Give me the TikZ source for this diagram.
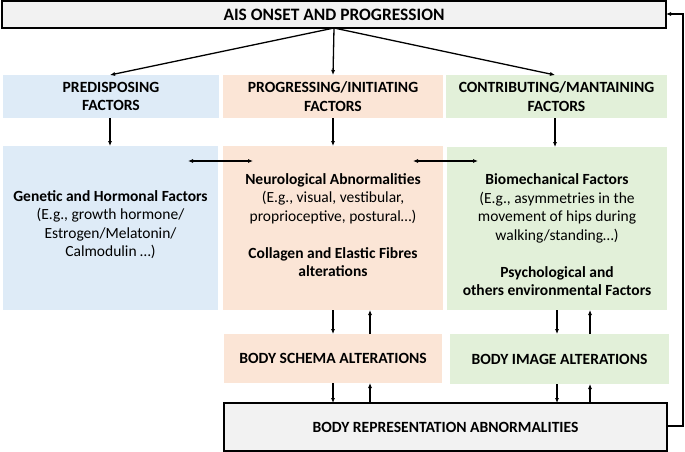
\documentclass[tikz,border=0pt]{standalone}
\usepackage{fontspec}
\setmainfont{Carlito}
\usetikzlibrary{arrows.meta}
\definecolor{cblue}{HTML}{DEEBF7}
\definecolor{cpeach}{HTML}{FBE5D6}
\definecolor{cgreen}{HTML}{E2F0D9}
\definecolor{cgray}{HTML}{F2F2F2}
\tikzset{
  box/.style={inner sep=0pt, outer sep=0pt, anchor=center},
  hdr/.style={box, font=\fontsize{15.6}{18.4}\selectfont\bfseries, align=center},
  body/.style={inner sep=0pt, font=\fontsize{15.5}{18.5}\selectfont, align=center},
  arr/.style={line width=1.3pt, -{Latex[length=5pt,width=4.2pt]}},
  darr/.style={line width=1.3pt, {Latex[length=5pt,width=4.2pt]}-{Latex[length=5pt,width=4.2pt]}},
}
\begin{document}
\begin{tikzpicture}[x=1pt,y=-1pt]
\useasboundingbox (0,0) rectangle (685,452);
% top
\node[box, draw, line width=1.3pt, fill=cgray, minimum width=664pt, minimum height=27pt,
      font=\fontsize{17.4}{20}\selectfont\bfseries] (top) at (334,14.5) {AIS ONSET AND PROGRESSION};
% headers
\node[hdr, fill=cblue, minimum width=216pt, minimum height=43pt] (pre) at (111,96.5) {PREDISPOSING\\FACTORS};
\node[hdr, fill=cpeach, minimum width=220pt, minimum height=43pt] (prog) at (333,96.5) {PROGRESSING/INITIATING\\FACTORS};
\node[hdr, fill=cgreen, minimum width=221pt, minimum height=43pt] (cont) at (556.5,96.5) {CONTRIBUTING/MANTAINING\\FACTORS};
% main boxes
\node[box, fill=cblue, minimum width=215pt, minimum height=164pt] (gen) at (110.5,228) {};
\node[box, fill=cpeach, minimum width=220pt, minimum height=164pt] (neu) at (333,228) {};
\node[box, fill=cgreen, minimum width=220pt, minimum height=163pt] (bio) at (557,228.5) {};
\node[body] (gent) at (110.5,224.7) {\textbf{Genetic and Hormonal Factors}\\(E.g., growth hormone/\\Estrogen/Melatonin/\\Calmodulin \dots)};
\node[body] (neut) at (333,225) {\textbf{Neurological Abnormalities}\\(E.g., visual, vestibular,\\proprioceptive, postural\dots)\\[18.5pt]\textbf{Collagen and Elastic Fibres}\\\textbf{alterations}};
\node[body] (biot) at (557,235) {\textbf{Biomechanical Factors}\\(E.g., asymmetries in the\\movement of hips during\\walking/standing\dots)\\[18.5pt]\textbf{Psychological and}\\\textbf{others environmental Factors}};
% lower boxes
\node[hdr, fill=cpeach, minimum width=218pt, minimum height=49pt] (schema) at (333,358.5) {BODY SCHEMA ALTERATIONS};
\node[hdr, fill=cgreen, minimum width=219pt, minimum height=50pt] (image) at (559.5,359) {BODY IMAGE ALTERATIONS};
\node[hdr, draw, line width=2pt, fill=cgray, minimum width=443pt, minimum height=48pt] (bra) at (445.5,427) {BODY REPRESENTATION ABNORMALITIES};
% coordinates
\coordinate (xl) at (110,0);
\coordinate (xm) at (333,0);
\coordinate (xr) at (555,0);
\coordinate (xu1) at (370,0);
\coordinate (xd2) at (557,0);
\coordinate (xu2) at (590,0);
\coordinate (h1a) at (188,161);
\coordinate (h1b) at (253,161);
\coordinate (h2a) at (413,161);
\coordinate (h2b) at (478,161);
\coordinate (fb1) at (683,426);
\coordinate (fb2) at (683,14);
% arrows from top
\draw[arr] (top.south) -- (pre.north -| xl);
\draw[arr] (top.south) -- (prog.north);
\draw[arr] (top.south) -- (cont.north -| xr);
% headers to boxes
\draw[arr] (pre.south -| xl) -- (gen.north -| xl);
\draw[arr] (prog.south) -- (neu.north);
\draw[arr] (cont.south -| xr) -- (bio.north -| xr);
% horizontal double arrows
\draw[darr] (h1a) -- (h1b);
\draw[darr] (h2a) -- (h2b);
% to schema / image
\draw[arr] (neu.south -| xm) -- (schema.north -| xm);
\draw[arr] (schema.north -| xu1) -- (neu.south -| xu1);
\draw[arr] (bio.south -| xd2) -- (image.north -| xd2);
\draw[arr] (image.north -| xu2) -- (bio.south -| xu2);
% to bottom
\draw[arr] (schema.south -| xm) -- (bra.north -| xm);
\draw[arr] (bra.north -| xu1) -- (schema.south -| xu1);
\draw[arr] (image.south -| xd2) -- (bra.north -| xd2);
\draw[arr] (bra.north -| xu2) -- (image.south -| xu2);
% feedback
\draw[arr] (bra.east |- fb1) -- (fb1) -- (fb2) -- (top.east |- fb2);
\end{tikzpicture}
\end{document}
